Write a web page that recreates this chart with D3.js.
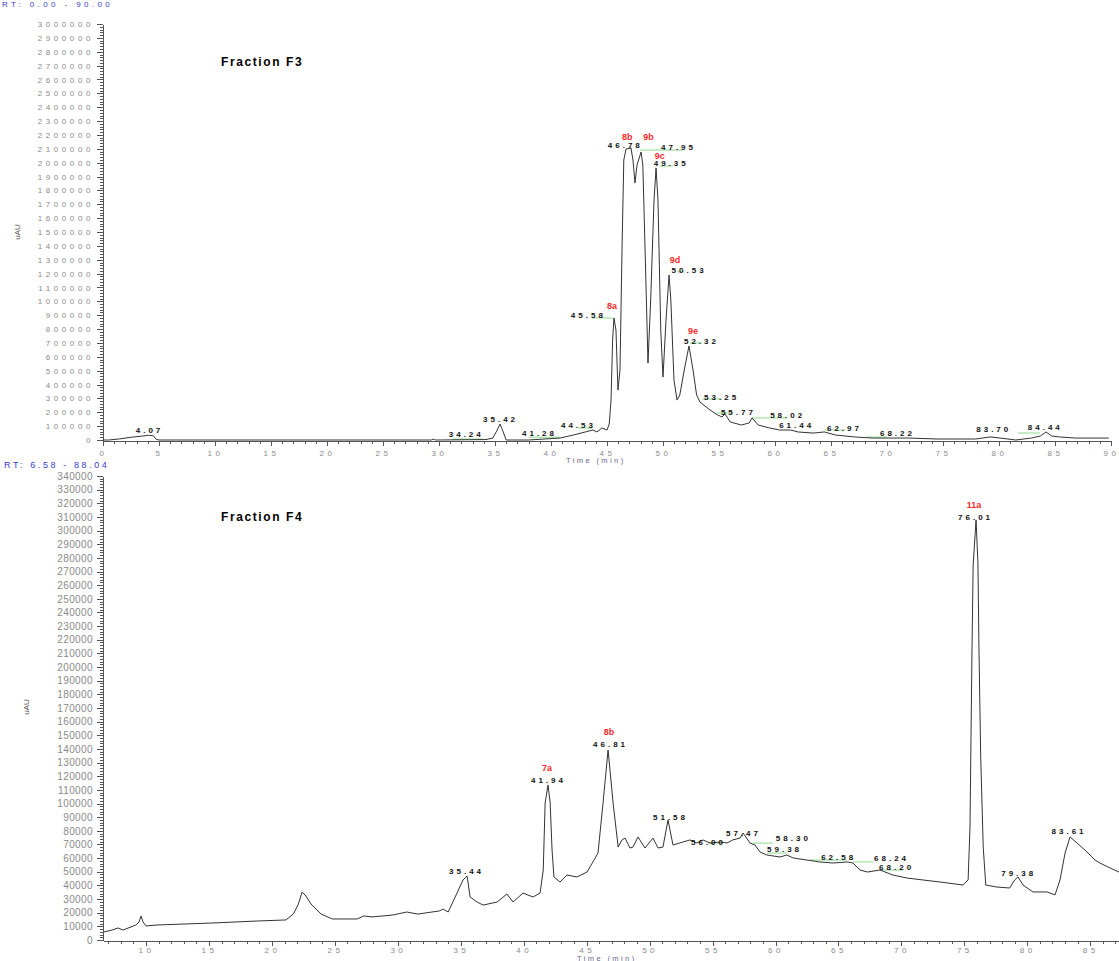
<!DOCTYPE html>
<html>
<head>
<meta charset="utf-8">
<script src="https://cdn.jsdelivr.net/npm/d3@7"></script>
<style>
  body { margin: 0; background: #fff; }
  svg text { font-family: Arial, "Liberation Sans", sans-serif; }
  .axis path, .axis line { stroke: #555; shape-rendering: crispEdges; }
  .peak { font-size: 8px; font-weight: bold; fill: #111; letter-spacing: 3px; }
  .code { font-size: 9px; font-weight: bold; fill: #ff2a2a; }
  .base { stroke: #8fd88f; stroke-width: 1; }
  .trace { fill: none; stroke: #333; stroke-width: 1; }
  .title { font-size: 12px; font-weight: bold; letter-spacing: 1.6px; }
</style>
</head>
<body>
<svg id="chart" width="1119" height="961"></svg>
<script>
// ---- Fraction F3 trace (time in min, intensity in uAU)
const f3Time = [0,0.5,1.5,2.5,3.5,4.07,4.5,4.75,5.0,29.3,29.5,29.7,34.2,34.8,35.2,35.45,35.7,36.0,
  38.0,40.8,42.0,43.75,44.1,44.55,45.0,45.2,45.36,45.5,45.62,45.8,45.98,
  46.16,46.34,46.5,46.7,47.14,47.32,47.5,47.68,48.04,48.2,48.4,48.66,
  48.9,49.2,49.38,49.55,49.8,50.0,50.27,50.54,50.7,50.98,51.25,51.5,51.9,52.32,52.68,53.0,53.3,
  54.2,54.9,55.27,55.54,56.0,57.0,57.7,57.95,58.5,59.5,60.4,61.4,62.05,63.4,64.4,65.4,67.1,68.7,72.0,74.5,77.9,
  79.2,80.1,81.5,82.9,83.7,84.2,84.7,85.4,86.8,89.8];
const f3Value = [0,0,8000,20000,28000,34000,30000,5000,0,0,5000,0,3000,14000,72000,115000,65000,0,
  0,14000,36000,72000,58000,87000,72000,115000,288000,721000,880000,793000,360000,
  505000,1370000,2019000,2099000,2106000,2019000,1853000,1983000,2077000,1983000,1370000,555000,
  1010000,1731000,1962000,1731000,793000,454000,865000,1190000,1010000,433000,288000,325000,505000,678000,505000,325000,274000,
  216000,180000,166000,188000,130000,108000,123000,159000,108000,87000,72000,72000,58000,50000,58000,36000,22000,14000,14000,7000,7000,
  22000,14000,0,14000,29000,58000,29000,22000,14000,14000];

const f3PeakText  = ["4.07","34.24","35.42","41.28","44.53","45.58","46.78","47.95","49.35","50.53","52.32","53.25","55.77","58.02","61.44","62.97","68.22","83.70","84.44"];
const f3PeakTime  = [4.02,32.3,35.36,38.84,42.32,43.2,46.5,51.25,50.6,52.2,53.3,55.1,56.6,61.0,61.8,66.07,70.8,79.4,84.0];
const f3PeakValue = [50500,21600,130000,28800,86500,880000,2106000,2091000,1976000,1204000,692000,288000,180000,159000,86500,65000,28800,57700,72100];

const f3CodeText  = ["8a","8b","9b","9c","9d","9e"];
const f3CodeTime  = [45.45,46.8,48.7,49.7,51.07,52.68];
const f3CodeValue = [948000,2167000,2160000,2030000,1280000,768000];

const f3BaseStart = [31.2,38.0,42.4,43.66,47.95,49.7,51.25,52.4,53.5,54.8,57.95,64.4,68.2,81.7];
const f3BaseEnd   = [33.9,40.8,43.75,45.5,51.7,50.9,51.96,53.5,55.27,56.2,61.07,66.3,70.0,83.66];
const f3BaseValue = [7000,20000,86500,880000,2091000,1976000,1212000,700000,296000,195000,159000,72000,21600,50500];

// ---- Fraction F4 trace
const f4Time = [6.66,7.3,7.78,8.17,9.2,9.44,9.6,9.76,10.0,10.87,
  15.4,18.8,21.1,21.7,22.1,22.4,22.7,23.1,23.9,24.8,
  26.76,27.3,27.95,29.6,30.7,31.6,33.3,33.6,34.0,34.7,
  35.18,35.5,35.74,36.3,36.77,37.88,38.67,39.15,39.94,40.74,
  41.3,41.55,41.7,41.93,42.1,42.25,42.4,42.88,43.44,44.23,
  45.03,45.9,46.3,46.7,47.1,47.5,47.8,48.05,48.44,48.68,
  49.08,49.63,50.27,50.67,51.06,51.46,51.86,52.65,53.2,53.76,
  54.24,54.8,55.6,56.15,56.6,57.18,57.42,57.97,58.37,58.77,
  59.3,60.36,60.9,61.4,62.5,63.5,64.57,65.7,66.16,66.7,
  67.3,68.3,69.33,70.44,71.7,73.07,74.9,75.3,75.45,75.6,
  75.7,75.93,76.08,76.16,76.3,76.5,76.7,77.6,78.6,79.0,
  79.26,79.66,80.45,81.57,82.2,82.6,83.0,83.4,83.95,84.74,
  85.38,85.77,86.57,87.28,88.0];
const f4Value = [5900,7300,8800,7300,11000,13200,17600,13200,10300,11000,
  12500,13900,14700,19000,26400,35200,32200,26400,19000,15400,
  15400,17600,16900,18300,20500,19000,21300,22700,20500,34400,
  44000,46900,31500,27800,25600,27800,33700,27800,34400,31500,
  34400,51300,100400,113600,100400,66000,46200,42500,47600,46200,
  49800,63700,100400,139200,100400,68100,73300,74700,67400,68100,
  75500,67400,74700,67400,68100,87900,69600,71800,73300,71100,
  73300,71100,71800,71100,73300,74700,78400,71100,69600,64500,
  62300,60800,62300,60100,58600,57200,56400,57200,56400,51300,
  49800,51300,47600,45400,44000,42500,40300,44000,82800,207400,
  274800,307800,276300,214700,134100,68100,40300,38800,38100,44000,
  46200,40300,35200,35200,33000,44000,63700,75500,71100,64500,
  58600,56400,52800,49800,48400];

const f4PeakText  = ["35.44","41.94","46.81","51.58","56.00","57.47","58.30","59.38","62.58","68.24","68.20","76.01","79.38","83.61"];
const f4PeakTime  = [35.34,41.85,46.78,51.54,54.56,57.34,61.3,60.6,64.9,69.1,69.5,75.77,79.2,83.2];
const f4PeakValue = [48400,115000,141400,87900,69600,76200,72500,64500,58600,57900,51300,307800,46900,77700];

const f4CodeText  = ["7a","8b","11a"];
const f4CodeTime  = [41.85,46.78,75.77];
const f4CodeValue = [123500,149900,316200];

const f4BaseStart = [54.64,58.2,59.3,62.74,66.16,68.3];
const f4BaseEnd   = [55.75,59.8,60.9,65.68,67.75,70.1];
const f4BaseValue = [71000,71000,63700,58600,57200,51300];

const svg = d3.select("#chart");

// header strings
svg.append("text").attr("x", 2).attr("y", 7)
   .style("font-size", "8px").style("fill", "#3a3acc").style("letter-spacing", "3.4px")
   .text("RT: 0.00 - 90.00");
svg.append("text").attr("x", 4).attr("y", 468)
   .style("font-size", "9px").style("fill", "#3a3acc").style("letter-spacing", "2.6px")
   .text("RT: 6.58 - 88.04");

function drawPanel(p) {
  const x = d3.scaleLinear().domain(p.xDomain).range(p.xRange);
  const y = d3.scaleLinear().domain(p.yDomain).range(p.yRange);
  const g = svg.append("g");

  // y axis: minor then major
  g.append("g").attr("class", "axis")
    .attr("transform", "translate(" + p.xRange[0] + ",0)")
    .call(d3.axisLeft(y).tickValues(d3.range(p.yDomain[0], p.yDomain[1] + 1, p.yMinor))
      .tickSize(3).tickSizeOuter(0).tickFormat(""));
  let yAx = g.append("g").attr("class", "axis")
    .attr("transform", "translate(" + p.xRange[0] + ",0)")
    .call(d3.axisLeft(y).tickValues(d3.range(p.yDomain[0], p.yDomain[1] + 1, p.yMajor))
      .tickSize(6).tickSizeOuter(0).tickPadding(p.yPad).tickFormat(d3.format("d")));
  yAx.selectAll("text").style("font-size", p.yFont).style("fill", "#8a8a8a")
     .style("letter-spacing", p.ySpacing);

  // x axis: minor then major
  g.append("g").attr("class", "axis")
    .attr("transform", "translate(0," + (p.yRange[0] + 1) + ")")
    .call(d3.axisBottom(x).tickValues(d3.range(Math.ceil(p.xDomain[0]), p.xDomain[1] + 0.01, 1))
      .tickSize(3).tickSizeOuter(0).tickFormat(""));
  let xAx = g.append("g").attr("class", "axis")
    .attr("transform", "translate(0," + (p.yRange[0] + 1) + ")")
    .call(d3.axisBottom(x).tickValues(p.xTicks).tickSize(5).tickSizeOuter(0).tickPadding(p.xPad));
  xAx.select(".domain").remove();
  xAx.selectAll("text").style("font-size", "8px").style("fill", "#8a8a8a")
     .style("letter-spacing", "3.5px");

  g.append("text").attr("x", p.xLabelX).attr("y", p.yRange[0] + p.xLabelDy)
    .style("font-size", "7.5px").style("fill", "#6a6a8a").style("letter-spacing", "2.4px")
    .text(p.xLabel);

  g.append("text")
    .attr("transform", "translate(" + p.auX + "," + p.auY + ") rotate(-90)")
    .attr("text-anchor", "middle").style("font-size", "8px").style("fill", "#555")
    .text("uAU");

  g.append("text").attr("class", "title").attr("x", 221).attr("y", p.yRange[1] + p.titleDy)
    .text(p.title);

  // baseline markers
  p.baseStart.forEach((s, i) => {
    g.append("line").attr("class", "base")
      .attr("x1", x(s)).attr("x2", x(p.baseEnd[i]))
      .attr("y1", y(p.baseValue[i])).attr("y2", y(p.baseValue[i]));
  });

  // trace
  const pts = p.time.map((t, i) => [t, p.value[i]]);
  g.append("path").datum(pts).attr("class", "trace")
    .attr("d", d3.line().x(d => x(d[0])).y(d => y(d[1])));

  // peak retention times
  p.peakText.forEach((s, i) => {
    g.append("text").attr("class", "peak").attr("text-anchor", "middle")
      .attr("x", x(p.peakTime[i]) + 1.5).attr("y", y(p.peakValue[i])).text(s);
  });
  // compound codes
  p.codeText.forEach((s, i) => {
    g.append("text").attr("class", "code").attr("text-anchor", "middle")
      .attr("x", x(p.codeTime[i])).attr("y", y(p.codeValue[i])).text(s);
  });
}

drawPanel({
  xDomain: [0, 90], xRange: [103, 1111],
  yDomain: [0, 3000000], yRange: [440, 24],
  yMajor: 100000, yMinor: 20000, yPad: 3, yFont: "8px", ySpacing: "3.6px",
  xTicks: d3.range(0, 91, 5), xPad: 4, xLabel: "Time (min)", xLabelX: 566, xLabelDy: 23,
  auX: 20, auY: 232, title: "Fraction F3", titleDy: 42,
  time: f3Time, value: f3Value,
  peakText: f3PeakText, peakTime: f3PeakTime, peakValue: f3PeakValue,
  codeText: f3CodeText, codeTime: f3CodeTime, codeValue: f3CodeValue,
  baseStart: f3BaseStart, baseEnd: f3BaseEnd, baseValue: f3BaseValue
});

drawPanel({
  xDomain: [6.58, 88.04], xRange: [103, 1128.5],
  yDomain: [0, 340000], yRange: [940, 476],
  yMajor: 10000, yMinor: 2000, yPad: 4, yFont: "10px", ySpacing: "0.4px",
  xTicks: d3.range(10, 88, 5), xPad: 1, xLabel: "Time (min)", xLabelX: 577, xLabelDy: 20.5,
  auX: 29, auY: 707, title: "Fraction F4", titleDy: 45,
  time: f4Time, value: f4Value,
  peakText: f4PeakText, peakTime: f4PeakTime, peakValue: f4PeakValue,
  codeText: f4CodeText, codeTime: f4CodeTime, codeValue: f4CodeValue,
  baseStart: f4BaseStart, baseEnd: f4BaseEnd, baseValue: f4BaseValue
});
</script>
</body>
</html>
